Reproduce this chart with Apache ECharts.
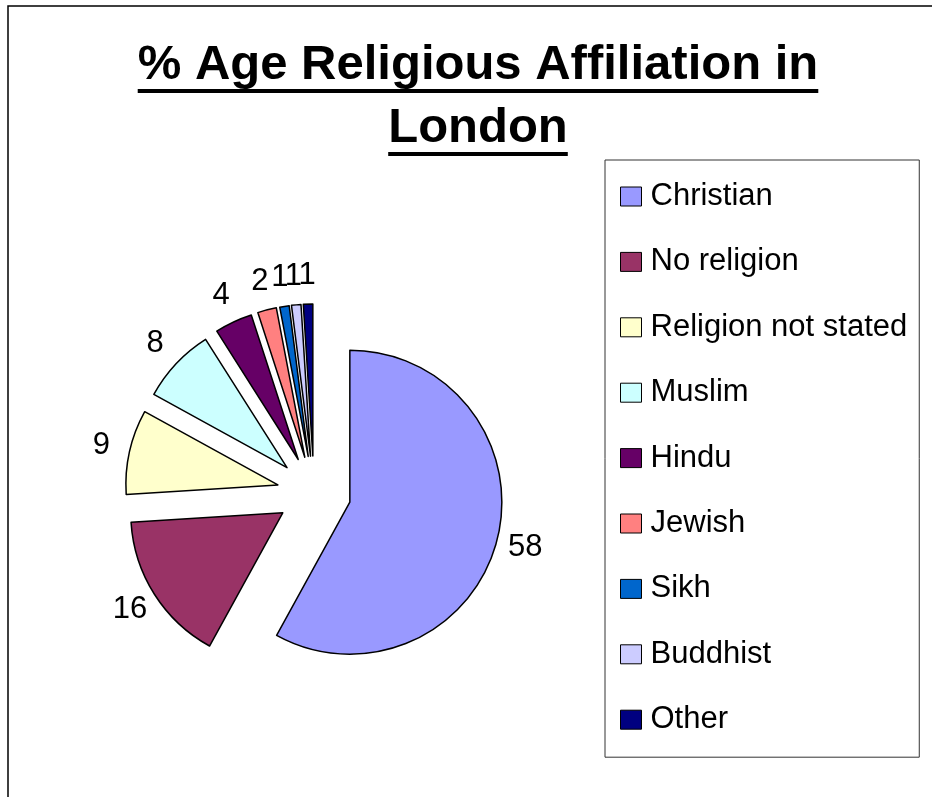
<!DOCTYPE html>
<html>
<head>
<meta charset="utf-8">
<title>% Age Religious Affiliation in London</title>
<script src="https://cdn.jsdelivr.net/npm/echarts@6/dist/echarts.min.js"></script>
<style>
html, body { margin: 0; padding: 0; background: #fff; }
#c_chart { width: 932px; height: 797px; }
</style>
</head>
<body>
<div id="c_chart"></div>
<script>
// data
const categories = ['Christian', 'No religion', 'Religion not stated', 'Muslim', 'Hindu', 'Jewish', 'Sikh', 'Buddhist', 'Other']
const shares = [58, 16, 9, 8, 4, 2, 1, 1, 1]
const sliceColors = ['#9999FF', '#993366', '#FFFFCC', '#CCFFFF', '#660066', '#FF8080', '#0066CC', '#CCCCFF', '#000080']
const titleLines = ['% Age Religious Affiliation in', 'London']

const font = "'Liberation Sans', Arial, sans-serif"
const titleFont = 'bold 49px ' + font
const titleX = 478

// measure title lines so the underline fits the text
const ctx = document.createElement('canvas').getContext('2d')
ctx.font = titleFont
const titleGraphics = []
titleLines.forEach(function (line, i) {
  const w = ctx.measureText(line).width
  const baseline = 81 + i * 63
  titleGraphics.push({
    type: 'text',
    x: titleX,
    y: baseline - 15.2,
    silent: true,
    style: { text: line, font: titleFont, fill: '#000', align: 'center', verticalAlign: 'middle' }
  })
  titleGraphics.push({
    type: 'rect',
    silent: true,
    shape: { x: titleX - w / 2, y: baseline + 8, width: w, height: 4 },
    style: { fill: '#000' }
  })
})

const pieCenter = [314, 493]
const pieData = categories.map(function (name, i) {
  return { name: name, value: shares[i], selected: true, itemStyle: { color: sliceColors[i] } }
})
const labelData = categories.map(function (name, i) {
  return { name: name, value: shares[i], selected: true }
})

const chart = echarts.init(document.getElementById('c_chart'))
const option = {
  animation: false,
  backgroundColor: '#fff',
  graphic: [{
    type: 'rect',
    silent: true,
    shape: { x: 8, y: 6, width: 1000, height: 1000 },
    style: { fill: 'none', stroke: '#000', lineWidth: 1.5 }
  }].concat(titleGraphics),
  legend: {
    orient: 'vertical',
    left: 605,
    top: 160,
    padding: [21, 12, 22, 15],
    itemWidth: 21,
    itemHeight: 19,
    itemGap: 34.4,
    icon: 'rect',
    borderColor: '#333',
    borderWidth: 1,
    selectedMode: false,
    itemStyle: { borderColor: '#000', borderWidth: 1 },
    textStyle: { fontSize: 31, fontFamily: font, color: '#000', lineHeight: 30, padding: [0, 0, 0, 4] },
    data: categories
  },
  series: [{
    // the exploded pie itself
    type: 'pie',
    center: pieCenter,
    radius: 152,
    startAngle: 90,
    clockwise: true,
    selectedMode: 'multiple',
    selectedOffset: 37,
    data: pieData,
    itemStyle: { borderColor: '#000', borderWidth: 1.5 },
    label: { show: false },
    labelLine: { show: false },
    emphasis: { disabled: true },
    select: { itemStyle: { borderColor: '#000', borderWidth: 1.5 } }
  }, {
    // invisible ring just outside the pie, carries the value labels centred on each slice's direction
    type: 'pie',
    center: pieCenter,
    radius: [158, 198],
    startAngle: 90,
    clockwise: true,
    silent: true,
    avoidLabelOverlap: false,
    minShowLabelAngle: 0,
    labelLayout: { hideOverlap: false },
    selectedMode: 'multiple',
    selectedOffset: 37,
    data: labelData,
    itemStyle: { color: 'rgba(0,0,0,0)', borderWidth: 0 },
    label: { show: true, position: 'inside', formatter: '{c}', fontSize: 31, fontFamily: font, color: '#000' },
    labelLine: { show: false },
    emphasis: { disabled: true },
    select: { itemStyle: { color: 'rgba(0,0,0,0)', borderWidth: 0 } }
  }]
}
chart.setOption(option)
</script>
</body>
</html>
